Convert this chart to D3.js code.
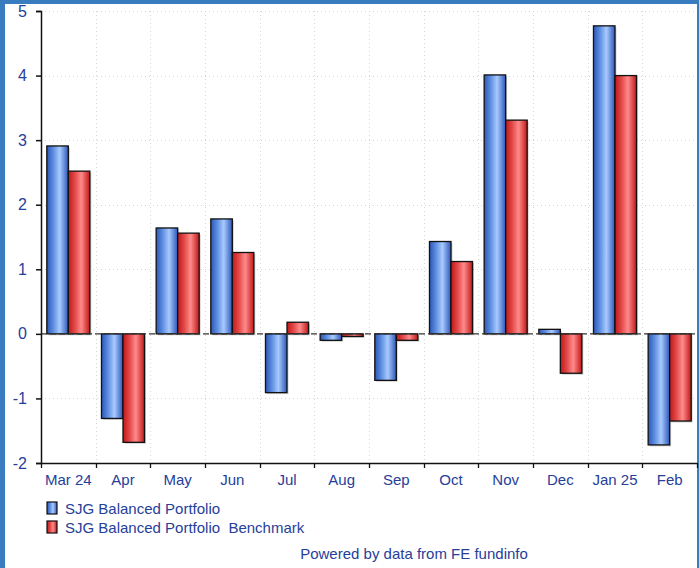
<!DOCTYPE html>
<html>
<head>
<meta charset="utf-8">
<script src="https://cdn.jsdelivr.net/npm/d3@7"></script>
<style>
  html, body { margin: 0; padding: 0; background: #fff; }
  #chart { width: 699px; height: 568px; }
  text { font-family: "Liberation Sans", Arial, sans-serif; fill: #26409a; }
</style>
</head>
<body>
<div id="chart"></div>
<script>
// Monthly returns (%)
var months = ["Mar 24", "Apr", "May", "Jun", "Jul", "Aug", "Sep", "Oct", "Nov", "Dec", "Jan 25", "Feb"];
var portfolio = [2.91, -1.31, 1.64, 1.78, -0.91, -0.10, -0.72, 1.43, 4.01, 0.07, 4.77, -1.72];
var benchmark = [2.52, -1.68, 1.56, 1.26, 0.18, -0.04, -0.10, 1.12, 3.31, -0.61, 4.00, -1.35];
var seriesNames = ["SJG Balanced Portfolio", "SJG Balanced Portfolio  Benchmark"];
var yTicks = [-2, -1, 0, 1, 2, 3, 4, 5];

var width = 699, height = 568;
var plotLeft = 41, plotRight = 697, plotTop = 11, plotBottom = 463;

var svg = d3.select("#chart").append("svg")
  .attr("width", width)
  .attr("height", height);

// gradients for the bars
var defs = svg.append("defs");
function makeGrad(id, edge, mid, light) {
  var g = defs.append("linearGradient").attr("id", id)
    .attr("x1", "0%").attr("x2", "100%").attr("y1", "0%").attr("y2", "0%");
  g.append("stop").attr("offset", "0%").attr("stop-color", edge);
  g.append("stop").attr("offset", "30%").attr("stop-color", mid);
  g.append("stop").attr("offset", "60%").attr("stop-color", light);
  g.append("stop").attr("offset", "100%").attr("stop-color", edge);
}
makeGrad("gBlue", "#2c56b8", "#5d8ee0", "#a8caff");
makeGrad("gRed", "#c01818", "#e24848", "#ff8a8a");

// frame border
svg.append("rect").attr("x", 0).attr("y", 0).attr("width", width).attr("height", 4).attr("fill", "#3a7cc0");
svg.append("rect").attr("x", 0).attr("y", 0).attr("width", 5).attr("height", height).attr("fill", "#3a7cc0");
svg.append("rect").attr("x", 697).attr("y", 0).attr("width", 2).attr("height", height).attr("fill", "#3a7cc0");

var x0 = d3.scaleBand().domain(months).range([plotLeft, plotRight]).paddingInner(0).paddingOuter(0);
var x1 = d3.scaleBand().domain([0, 1]).range([0, x0.bandwidth()]).paddingOuter(0.27).paddingInner(0);
var y = d3.scaleLinear().domain([-2, 5]).range([plotBottom, plotTop]);

// grid
svg.append("g").selectAll("line").data(yTicks.filter(function(d) { return d !== 0 && d !== -2; }))
  .enter().append("line")
  .attr("x1", plotLeft).attr("x2", plotRight)
  .attr("y1", function(d) { return Math.round(y(d)) + 0.5; })
  .attr("y2", function(d) { return Math.round(y(d)) + 0.5; })
  .attr("stroke", "#d6d6d6").attr("stroke-dasharray", "1,3");

svg.append("g").selectAll("line").data(months.slice(1))
  .enter().append("line")
  .attr("x1", function(d) { return Math.round(x0(d)) + 0.5; })
  .attr("x2", function(d) { return Math.round(x0(d)) + 0.5; })
  .attr("y1", plotTop).attr("y2", plotBottom)
  .attr("stroke", "#d6d6d6").attr("stroke-dasharray", "1,3");

// bars
var groups = svg.append("g").selectAll("g").data(months).enter().append("g")
  .attr("transform", function(d) { return "translate(" + x0(d) + ",0)"; });

var pairs = groups.selectAll("g").data(function(d, i) {
  return [{ s: 0, v: portfolio[i] }, { s: 1, v: benchmark[i] }];
}).enter().append("g");

// soft shadow
pairs.append("rect")
  .attr("x", function(d) { return x1(d.s) + 1.5; })
  .attr("y", function(d) { return Math.min(y(d.v), y(0)) + 1.5; })
  .attr("width", x1.bandwidth())
  .attr("height", function(d) { return Math.abs(y(d.v) - y(0)); })
  .attr("fill", "#000").attr("opacity", 0.18);

pairs.append("rect")
  .attr("x", function(d) { return x1(d.s); })
  .attr("y", function(d) { return Math.min(y(d.v), y(0)); })
  .attr("width", x1.bandwidth())
  .attr("height", function(d) { return Math.abs(y(d.v) - y(0)); })
  .attr("fill", function(d) { return d.s === 0 ? "url(#gBlue)" : "url(#gRed)"; })
  .attr("stroke", "#111").attr("stroke-width", 1.3);

// zero line
svg.append("line")
  .attr("x1", plotLeft).attr("x2", plotRight)
  .attr("y1", y(0)).attr("y2", y(0))
  .attr("stroke", "#333").attr("stroke-width", 1.2).attr("stroke-dasharray", "6,3");

// axes
var yAxis = svg.append("g")
  .attr("transform", "translate(" + plotLeft + ",0)")
  .call(d3.axisLeft(y).tickValues(yTicks).tickFormat(function(d) { return String(d); }).tickSize(5).tickPadding(9));
yAxis.select(".domain").attr("stroke", "#111").attr("stroke-width", 1.5);
yAxis.selectAll(".tick line").attr("stroke", "#111").attr("stroke-width", 1.5);
yAxis.selectAll("text").attr("font-size", 16).style("font-family", "Liberation Sans, Arial, sans-serif").attr("fill", "#26409a");

var xAxis = svg.append("g")
  .attr("transform", "translate(0," + plotBottom + ")")
  .call(d3.axisBottom(x0).tickSize(0).tickPadding(11));
xAxis.select(".domain").attr("stroke", "#111").attr("stroke-width", 1.5);
xAxis.selectAll("text").attr("font-size", 15).style("font-family", "Liberation Sans, Arial, sans-serif").attr("fill", "#26409a");

svg.append("g").selectAll("line").data(months.concat(["_end"]))
  .enter().append("line")
  .attr("x1", function(d, i) { return Math.round(plotLeft + i * x0.bandwidth()) + 0.5; })
  .attr("x2", function(d, i) { return Math.round(plotLeft + i * x0.bandwidth()) + 0.5; })
  .attr("y1", plotBottom).attr("y2", plotBottom + 5)
  .attr("stroke", "#111").attr("stroke-width", 1.3);

// legend
var legend = svg.append("g").selectAll("g").data(seriesNames).enter().append("g")
  .attr("transform", function(d, i) { return "translate(47," + (502 + i * 19) + ")"; });
legend.append("rect")
  .attr("x", 0).attr("y", 0).attr("width", 10).attr("height", 12)
  .attr("fill", function(d, i) { return i === 0 ? "url(#gBlue)" : "url(#gRed)"; })
  .attr("stroke", "#111").attr("stroke-width", 1.2);
legend.append("text")
  .attr("x", 18).attr("y", 12)
  .attr("font-size", 15)
  .style("white-space", "pre")
  .text(function(d) { return d; });

svg.append("text")
  .attr("x", 414).attr("y", 559)
  .attr("text-anchor", "middle")
  .attr("font-size", 15)
  .text("Powered by data from FE fundinfo");
</script>
</body>
</html>
